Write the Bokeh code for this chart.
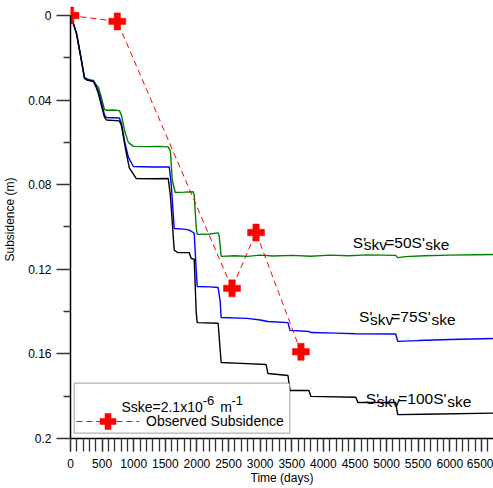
from bokeh.plotting import figure
from bokeh.models import (Range1d, LinearAxis, SingleIntervalTicker, FixedTicker,
                          Label, Legend, LegendItem, BoxAnnotation, Grid)
from bokeh.embed import file_html
from bokeh.resources import INLINE

FONT = "Liberation Sans"

# ---------------- data ----------------
days_50 = [0, 16, 95, 174, 221, 284, 363, 400, 442, 489, 537, 568, 680, 773, 805, 860, 915, 994,
           1200, 1400, 1546, 1580, 1610, 1657, 1800, 1941, 1957, 1988, 2004, 2200, 2335, 2351,
           2383, 2600, 2800, 3000, 3200, 3500, 3800, 4100, 4400, 4700, 5144, 5176, 5300, 5600,
           6000, 6400, 6691]
sub_50 = [0, 0.001, 0.0085, 0.0213, 0.0293, 0.0302, 0.0307, 0.0325, 0.034, 0.0388, 0.0444,
          0.0448, 0.0447, 0.0450, 0.047, 0.055, 0.060, 0.0619, 0.0620, 0.0619, 0.0621, 0.064,
          0.078, 0.0837, 0.0835, 0.0833, 0.085, 0.1000, 0.1035, 0.1033, 0.1028, 0.1040, 0.1139,
          0.1136, 0.1139, 0.1133, 0.1137, 0.1134, 0.1138, 0.1133, 0.1136, 0.1132, 0.1134,
          0.1145, 0.1140, 0.1136, 0.1133, 0.1131, 0.1130]

days_75 = [0, 16, 95, 174, 221, 260, 363, 400, 442, 489, 537, 568, 773, 805, 860, 915, 994,
           1300, 1562, 1594, 1641, 1800, 1880, 1941, 1957, 1988, 2004, 2200, 2335, 2367, 2383,
           2800, 3000, 3124, 3440, 3472, 3771, 3803, 4200, 4500, 5144, 5176, 5500, 6000, 6691]
sub_75 = [0, 0.001, 0.0085, 0.0215, 0.0295, 0.0303, 0.031, 0.033, 0.036, 0.041, 0.047,
          0.0482, 0.0485, 0.051, 0.060, 0.067, 0.0714, 0.0716, 0.0716, 0.080, 0.1007, 0.1010,
          0.1015, 0.1026, 0.103, 0.120, 0.1281, 0.1283, 0.1286, 0.135, 0.1428, 0.1432, 0.1440,
          0.1447, 0.1452, 0.1489, 0.1494, 0.1499, 0.1502, 0.1505, 0.1506, 0.1541, 0.1537,
          0.1532, 0.1527]

days_100 = [0, 16, 95, 174, 221, 260, 363, 400, 442, 489, 537, 568, 773, 805, 870, 930, 1041,
            1300, 1546, 1580, 1641, 1700, 1878, 1909, 1957, 1988, 2004, 2335, 2383, 2700, 3093,
            3124, 3440, 3472, 3771, 3803, 4513, 4545, 5144, 5176, 5600, 6691]
sub_100 = [0, 0.001, 0.0085, 0.0215, 0.0298, 0.0305, 0.0312, 0.0335, 0.037, 0.0425, 0.048,
           0.0494, 0.0498, 0.052, 0.063, 0.072, 0.0771, 0.0772, 0.0771, 0.085, 0.111, 0.1121,
           0.1121, 0.1149, 0.1152, 0.140, 0.1452, 0.1455, 0.1641, 0.1645, 0.165, 0.1693,
           0.1702, 0.1773, 0.1773, 0.1801, 0.1805, 0.183, 0.183, 0.1887, 0.1885, 0.188]

obs_days = [0, 740, 2555, 2935, 3645]
obs_sub = [0, 0.0028, 0.129, 0.1026, 0.159]

y_major_ticks = [0, 0.04, 0.08, 0.12, 0.16, 0.2]
y_minor_ticks = [0.02, 0.06, 0.1, 0.14, 0.18]
y_tick_labels = ["0", "0.04", "0.08", "0.12", "0.16", "0.2"]

# ---------------- figure ----------------
p = figure(width=493, height=488, output_backend="svg", toolbar_location=None,
           x_range=Range1d(0, 6691), y_range=Range1d(0.2, -0.00709),
           x_axis_location=None, y_axis_location=None, title=None,
           min_border_left=69, min_border_right=0, min_border_top=0, min_border_bottom=50)
p.outline_line_color = None
p.background_fill_color = "white"
for r in list(p.center):
    if isinstance(r, Grid):
        r.visible = False

xaxis = LinearAxis(ticker=SingleIntervalTicker(interval=500, num_minor_ticks=5),
                   bounds=(0, 6691), axis_label="Time (days)")
xaxis.major_tick_out = 13
xaxis.minor_tick_out = 13
xaxis.major_tick_in = 0
xaxis.minor_tick_in = 0
xaxis.major_label_standoff = 7
xaxis.axis_label_standoff = 0
p.add_layout(xaxis, "below")

yaxis = LinearAxis(ticker=FixedTicker(ticks=y_major_ticks, minor_ticks=y_minor_ticks),
                   bounds=(0, 0.2), axis_label="Subsidence (m)",
                   major_label_overrides={t: s for t, s in zip(y_major_ticks, y_tick_labels)})
yaxis.major_tick_out = 14
yaxis.minor_tick_out = 7
yaxis.major_tick_in = 0
yaxis.minor_tick_in = 0
yaxis.major_label_standoff = 5
yaxis.axis_label_standoff = 8
p.add_layout(yaxis, "left")

for ax in (xaxis, yaxis):
    ax.axis_line_color = "black"
    ax.axis_line_width = 1.5
    ax.major_tick_line_color = "#333333"
    ax.minor_tick_line_color = "#333333"
    ax.major_tick_line_width = 1.3
    ax.minor_tick_line_width = 1.3
    ax.major_label_text_font = FONT
    ax.major_label_text_font_size = "12px"
    ax.major_label_text_color = "black"
    ax.axis_label_text_font = FONT
    ax.axis_label_text_font_size = "12px"
    ax.axis_label_text_font_style = "normal"
    ax.axis_label_text_color = "black"

p.line(days_50, sub_50, line_color="#008000", line_width=1.4)
p.line(days_75, sub_75, line_color="#0000FF", line_width=1.4)
p.line(days_100, sub_100, line_color="black", line_width=1.4)

obs_line = p.line(obs_days, obs_sub, line_color="red", line_dash="6 4", line_width=1)
obs_pts = p.scatter(obs_days, obs_sub, marker="plus", size=17, fill_color="red",
                    line_color="red", line_width=0.5)

# legend box (screen units, relative to the plot frame)
box = BoxAnnotation(left=3.7, right=219.3, bottom=5.3, top=55.3,
                    left_units="screen", right_units="screen",
                    bottom_units="screen", top_units="screen",
                    fill_color="white", fill_alpha=1.0, line_color="black", line_width=1.2)
p.add_layout(box)

legend = Legend(items=[LegendItem(label="Observed Subsidence", renderers=[obs_line, obs_pts])],
                location=(6, -2.7), glyph_width=63, glyph_height=40, label_height=40,
                label_standoff=7, padding=0, margin=0, spacing=0,
                border_line_color=None, background_fill_alpha=0,
                label_text_font=FONT, label_text_font_size="14px", label_text_color="black")
p.add_layout(legend, "center")


def piece(x, y, txt, size):
    p.add_layout(Label(x=x, y=y, text=txt, text_font=FONT, text_font_size=size,
                       text_align="left", text_baseline="alphabetic", text_color="black"))


# legend title
piece(805, 0.1849, "Sske=2.1x10", "14px")
piece(2090, 0.1818, "-6", "13px")
piece(2367, 0.1849, "m", "14px")
piece(2545, 0.1820, "-1", "13px")

# curve annotations
A = "15.5px"
piece(4466, 0.1072, "S'", A)
piece(4639, 0.1083, "skv", A)
piece(4979, 0.1072, "=50S'", A)
piece(5610, 0.1083, "ske", A)

piece(4565, 0.1422, "S'", A)
piece(4739, 0.1435, "skv", A)
piece(5073, 0.1422, "=75S'", A)
piece(5710, 0.1435, "ske", A)

piece(4671, 0.1812, "S'", A)
piece(4845, 0.1825, "skv", A)
piece(5184, 0.1812, "=100S'", A)
piece(5960, 0.1825, "ske", A)

open("out.html", "w").write(file_html(p, INLINE))
